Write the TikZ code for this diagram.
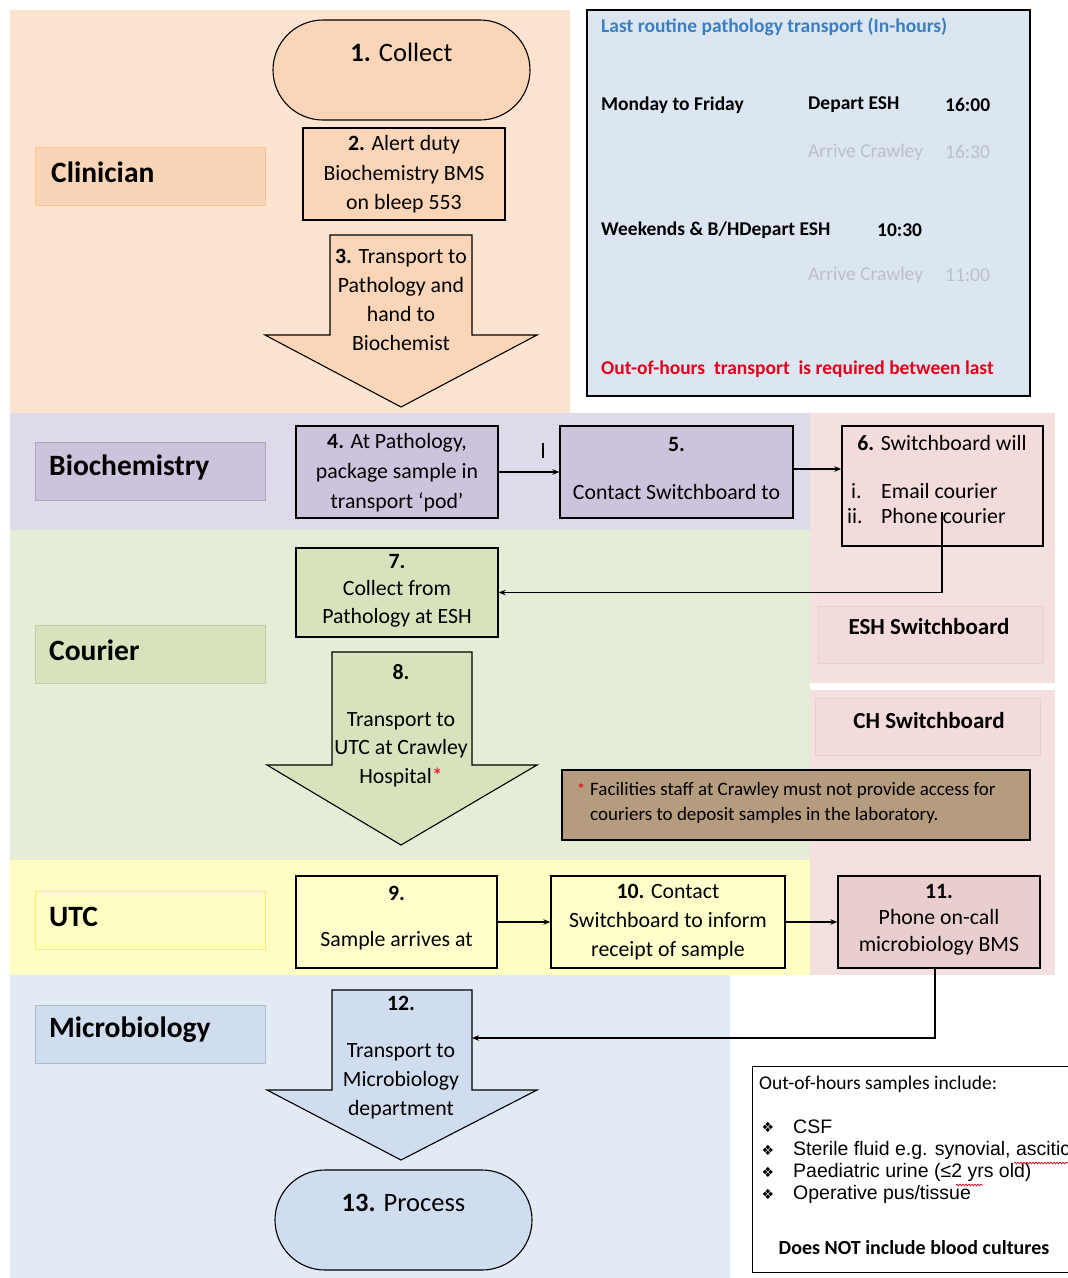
\documentclass[tikz,border=0pt]{standalone}
\usepackage{fontspec}
\setmainfont{Carlito}
\newfontfamily\arialf{Liberation Sans}
\newfontfamily\djv{DejaVu Sans}
\usetikzlibrary{arrows.meta,decorations.pathmorphing}
\definecolor{peachLane}{HTML}{FCE4D0}
\definecolor{peachNode}{HTML}{FAD5B7}
\definecolor{peachLbl}{HTML}{FAD4B6}
\definecolor{lavLane}{HTML}{DEDAEA}
\definecolor{lavNode}{HTML}{CDC3DD}
\definecolor{greenLane}{HTML}{E5EDD7}
\definecolor{greenNode}{HTML}{D7E3BD}
\definecolor{pinkLane}{HTML}{F3E0DF}
\definecolor{pinkNode}{HTML}{F2DBDA}
\definecolor{pinkDark}{HTML}{E8CECD}
\definecolor{yelLane}{HTML}{FFFFC4}
\definecolor{yelNode}{HTML}{FFFFCC}
\definecolor{yelBorder}{HTML}{F5F060}
\definecolor{blueLane}{HTML}{E2EAF4}
\definecolor{blueNode}{HTML}{D0DDEE}
\definecolor{infoFill}{HTML}{DCE6F1}
\definecolor{infoBlue}{HTML}{3A7FC1}
\definecolor{faintGray}{HTML}{B9C0C8}
\definecolor{alertRed}{HTML}{E2001A}
\definecolor{noteFill}{HTML}{B59C7E}
\newcommand\myfs[2]{\fontsize{#1}{#2}\selectfont}
\begin{document}
\begin{tikzpicture}[x=1pt,y=-1pt,
  pbox/.style={draw=black, line width=1.3pt, inner sep=0pt},
  stadium/.style={draw=black, line width=1.1pt, inner sep=0pt, rounded corners=50pt, minimum width=257pt, minimum height=100pt},
  txt/.style={inner sep=0pt, align=center, font=\myfs{21.8}{29}},
  lbl/.style={inner sep=0pt, anchor=west, font=\bfseries\myfs{29.5}{32}},
  lbox/.style={line width=0.7pt, inner sep=0pt, minimum width=230pt, minimum height=58pt},
  blockarrow/.style={draw=black, line width=1.1pt, line join=miter},
  conn/.style={line width=1.2pt, -{Stealth[length=7pt,width=5.5pt]}},
  info/.style={inner sep=0pt, anchor=west, font=\bfseries\myfs{19.5}{22}},
  infog/.style={inner sep=0pt, anchor=west, font=\myfs{19.5}{22}, text=faintGray},
  ooh/.style={inner sep=0pt, anchor=west, font=\arialf\myfs{19.5}{22}},
  bullet/.style={inner sep=0pt, font=\djv\myfs{14}{16}},
  squiggle/.style={alertRed, line width=0.7pt, decorate, decoration={snake, amplitude=0.9pt, segment length=3pt}}
]
\useasboundingbox (0,0) rectangle (1068,1278);
% ---------- lanes ----------
\fill[peachLane] (10,10) rectangle (570,413);
\fill[lavLane] (10,413) rectangle (810,530);
\fill[greenLane] (10,530) rectangle (810,860);
\fill[yelLane] (10,860) rectangle (810,975);
\fill[blueLane] (10,975) rectangle (730,1278);
\fill[pinkLane] (810,413) rectangle (1055,683);
\fill[pinkLane] (810,690) rectangle (1055,975);
% ---------- lane labels ----------
\node[lbox, fill=peachLbl, draw=peachLbl!80!orange] (lclin) at (150,176) {};
\node[lbl] (tclin) at (51,172) {Clinician};
\node[lbox, fill=lavNode, draw=lavNode!85!black] (lbio) at (150,471.5) {};
\node[lbl] (tbio) at (49,467) {Biochemistry};
\node[lbox, fill=greenNode, draw=greenNode!90!black] (lcou) at (150,654) {};
\node[lbl] (tcou) at (49,650) {Courier};
\node[lbox, fill=yelLane, draw=yelBorder] (lutc) at (150,920.5) {};
\node[lbl] (tutc) at (49,917) {UTC};
\node[lbox, fill=blueNode, draw=blueNode!85!black] (lmic) at (150,1034) {};
\node[lbl] (tmic) at (49,1030) {Microbiology};
% ---------- info box ----------
\node[draw=black, line width=1.3pt, fill=infoFill, minimum width=443pt, minimum height=386pt, inner sep=0pt] (infobox) at (808.5,203) {};
\node[info, text=infoBlue] (i1) at (601,27) {Last routine pathology transport (In-hours)};
\node[info] (i2) at (601,105) {Monday to Friday};
\node[info] (i3) at (808,105) {Depart ESH};
\node[info] (i4) at (945,105) {16:00};
\node[infog] (i5) at (808,152) {Arrive Crawley};
\node[infog] (i6) at (945,152) {16:30};
\node[info] (i7) at (601,230) {Weekends \& B/HDepart ESH};
\node[info] (i8) at (877,230) {10:30};
\node[infog] (i9) at (808,275) {Arrive Crawley};
\node[infog] (i10) at (945,275) {11:00};
\node[info, text=alertRed] (i11) at (601,369) {Out-of-hours\ \ transport\ \ is required between last};
% ---------- 1 Collect ----------
\node[stadium, fill=peachNode] (n1) at (401.5,70) {};
\node[txt, font=\myfs{26.5}{30}] (t1) at (401.5,52) {\textbf{1.} Collect};
% ---------- 2 ----------
\node[pbox, fill=peachNode, minimum width=202pt, minimum height=92pt] (n2) at (404,174) {};
\node[txt, font=\myfs{21.8}{29.5}] (t2) at (404,174.5) {\textbf{2.} Alert duty\\Biochemistry BMS\\on bleep 553};
% ---------- 3 arrow ----------
\draw[blockarrow, fill=peachNode] (330,235) -- (472,235) -- (472,335) -- (537,335) -- (401,407) -- (265,335) -- (330,335) -- cycle;
\node[txt] (t3) at (401,299.5) {\textbf{3.} Transport to\\Pathology and\\hand to\\Biochemist};
% ---------- 4 ----------
\node[pbox, fill=lavNode, minimum width=202pt, minimum height=92pt] (n4) at (397,472) {};
\node[txt, font=\myfs{21.8}{30}] (t4) at (397,473) {\textbf{4.} At Pathology,\\package sample in\\transport ‘pod’};
% ---------- 5 ----------
\node[pbox, fill=lavNode, minimum width=233pt, minimum height=92pt] (n5) at (676.5,472) {};
\node[txt] (t5a) at (676.5,444) {\textbf{5.}};
\node[txt] (t5b) at (676.5,492) {Contact Switchboard to};
% ---------- 6 ----------
\node[pbox, fill=pinkNode, minimum width=201pt, minimum height=120pt] (n6) at (942.5,486) {};
\node[txt] (t6a) at (942,443) {\textbf{6.} Switchboard will};
\node[txt, anchor=west] (t6b) at (851,491) {i.};
\node[txt, anchor=west] (t6c) at (881,491) {Email courier};
\node[txt, anchor=west] (t6d) at (847,516) {ii.};
\node[txt, anchor=west] (t6e) at (881,516) {Phone courier};
% ---------- switchboard labels ----------
\node[lbox, fill=pinkNode, draw=pinkDark, minimum width=225pt, minimum height=57pt] (esh) at (930.5,634.5) {};
\node[txt, font=\bfseries\myfs{23}{26}] (tesh) at (929,627) {ESH Switchboard};
\node[lbox, fill=pinkNode, draw=pinkDark, minimum width=225pt, minimum height=57pt] (chs) at (927.5,726.5) {};
\node[txt, font=\bfseries\myfs{23}{26}] (tchs) at (929,721) {CH Switchboard};
% ---------- 7 ----------
\node[pbox, fill=greenNode, minimum width=202pt, minimum height=89pt] (n7) at (397,592.5) {};
\node[txt, font=\myfs{21.8}{27.5}] (t7) at (397,590.5) {\textbf{7.}\\Collect from\\Pathology at ESH};
% ---------- 8 arrow ----------
\draw[blockarrow, fill=greenNode] (332,652) -- (472,652) -- (472,765) -- (537,765) -- (401,845) -- (267,765) -- (332,765) -- cycle;
\node[txt] (t8a) at (401,672) {\textbf{8.}};
\node[txt, font=\myfs{21.8}{28.5}] (t8b) at (401,749.5) {Transport to\\UTC at Crawley\\Hospital\textcolor{alertRed}{*}};
% ---------- note ----------
\node[draw=black, line width=1.3pt, fill=noteFill, minimum width=468pt, minimum height=70pt, inner sep=0pt] (note) at (796,805) {};
\node[inner sep=0pt, text=alertRed, font=\myfs{17}{20}] (nast) at (581,789) {*};
\node[inner sep=0pt, anchor=west, align=left, font=\myfs{19}{25}] (ntext) at (590,802.5) {Facilities staff at Crawley must not provide access for\\couriers to deposit samples in the laboratory.};
% ---------- 9, 10, 11 ----------
\node[pbox, fill=yelNode, minimum width=201pt, minimum height=92pt] (n9) at (396.5,922) {};
\node[txt] (t9a) at (396.5,893) {\textbf{9.}};
\node[txt] (t9b) at (396.5,941) {Sample arrives at};
\node[pbox, fill=yelNode, minimum width=234pt, minimum height=92pt] (n10) at (668,922) {};
\node[txt] (t10) at (668,922) {\textbf{10.} Contact\\Switchboard to inform\\receipt of sample};
\node[pbox, fill=pinkDark, minimum width=202pt, minimum height=92pt] (n11) at (939,922) {};
\node[txt, font=\myfs{21.8}{26.5}] (t11) at (939,919.5) {\textbf{11.}\\Phone on-call\\microbiology BMS};
% ---------- 12 arrow ----------
\draw[blockarrow, fill=blueNode] (332,990) -- (472,990) -- (472,1090) -- (537,1090) -- (401,1160) -- (267,1090) -- (332,1090) -- cycle;
\coordinate (s12) at (472,1038);
\node[txt] (t12a) at (401,1003) {\textbf{12.}};
\node[txt] (t12b) at (401,1081) {Transport to\\Microbiology\\department};
% ---------- 13 ----------
\node[stadium, fill=blueNode] (n13) at (403.5,1220) {};
\node[txt, font=\myfs{26.5}{30}] (t13) at (403.5,1203) {\textbf{13.} Process};
% ---------- connectors ----------
\draw[conn] (n4.east) -- (n5.west);
\draw[line width=2pt] (543,443) -- (543,458);
\draw[conn] (n5.east |- 0,469) -- (n6.west |- 0,469);
\coordinate (c6) at (942,512);
\draw[conn] (c6) |- (n7.east);
\draw[conn] (n9.east) -- (n10.west);
\draw[conn] (n10.east) -- (n11.west);
\draw[conn] (n11.south -| 935,0) |- (s12);
% ---------- out-of-hours box ----------
\node[draw=black, line width=1.3pt, fill=white, minimum width=330pt, minimum height=206pt, inner sep=0pt, anchor=north west] (oohbox) at (752,1066) {};
\node[inner sep=0pt, anchor=west, font=\myfs{19.5}{22}] (o1) at (759,1084) {Out-of-hours samples include:};
\node[bullet] (b1) at (768,1127) {❖};
\node[bullet] (b2) at (768,1150) {❖};
\node[bullet] (b3) at (768,1172) {❖};
\node[bullet] (b4) at (768,1194) {❖};
\node[ooh] (o2) at (793,1127) {CSF};
\node[ooh] (o3) at (793,1150) {Sterile fluid e.g. synovial, ascitic};
\node[ooh] (o4) at (793,1172) {Paediatric urine (≤2 yrs old)};
\node[ooh] (o5) at (793,1194) {Operative pus/tissue};
\draw[squiggle] (1014,1163) -- (1068,1163);
\draw[squiggle] (956,1185) -- (983,1185);
\node[inner sep=0pt, font=\bfseries\myfs{20}{22}] (o6) at (914,1248) {Does NOT include blood cultures};
\end{tikzpicture}
\end{document}
